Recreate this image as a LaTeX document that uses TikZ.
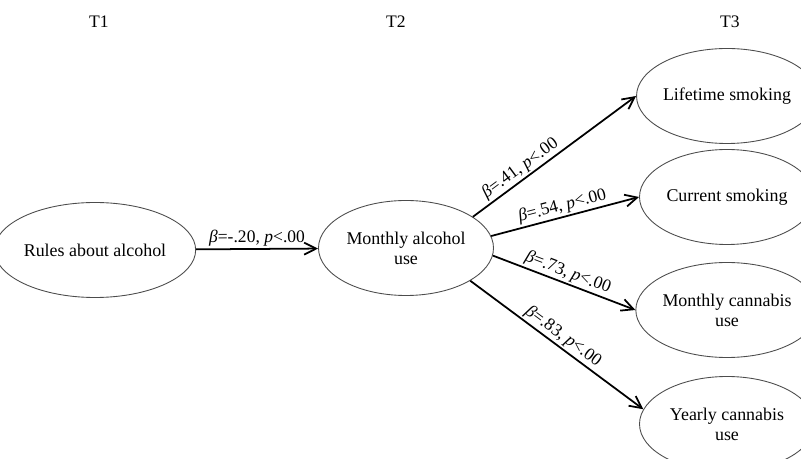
\documentclass[tikz,border=0pt]{standalone}
\usepackage{fontspec}
\setmainfont{Liberation Serif}
\usetikzlibrary{
  positioning,
  arrows.meta,
  shapes.geometric
}

\begin{document}
\begin{tikzpicture}[
    var/.style={ellipse, draw=black!70, line width=0.5pt, minimum width=3.5cm,
      minimum height=1.9cm, inner sep=0pt, align=center,
      font=\fontsize{10.2}{11.5}\selectfont},
    effect/.style={line width=1pt, -{Straight Barb[length=2.4mm, width=2.4mm]}},
    coef/.style={sloped, above, inner sep=1pt, font=\fontsize{10}{12}\selectfont},
    wave/.style={font=\fontsize{10}{12}\selectfont}
  ]
      \useasboundingbox (0,0) rectangle (16.02,9.18);
      \clip (0,0) rectangle (16.02,9.18);

      % Waves
      \node[wave] (t1) at (1.98,8.74) {T1};
      \node[wave] (t2) at (7.92,8.74) {T2};
      \node[wave] (t3) at (14.6,8.74) {T3};

      % Variables
      \node[var] (rules) at (1.9,4.18) {Rules about alcohol};
      \node[var] (monthlyalc) at (8.12,4.22) {Monthly alcohol\\use};
      \node[var] (lifesmoke) at (14.54,7.26) {Lifetime smoking};
      \node[var] (cursmoke) at (14.54,5.24) {Current smoking};
      \node[var] (monthcann) at (14.54,2.98) {Monthly cannabis\\use};
      \node[var] (yearcann) at (14.54,0.70) {Yearly cannabis\\use};

      % Paths
      \draw[effect] (rules) -- node[coef] {\textit{β}=-.20, \textit{p}<.00} (monthlyalc);
      \draw[effect] (monthlyalc.25) -- node[coef, pos=0.33] {\textit{β}=.41, \textit{p}<.00} (lifesmoke.west);
      \draw[effect] (monthlyalc.8) -- node[coef] {\textit{β}=.54, \textit{p}<.00} (cursmoke.west);
      \draw[effect] (monthlyalc.-5) -- node[coef] {\textit{β}=.73, \textit{p}<.00} (monthcann.west);
      \draw[effect] (monthlyalc.-27) -- node[coef] {\textit{β}=.83, \textit{p}<.00} (yearcann.170);
    \end{tikzpicture}
\end{document}
